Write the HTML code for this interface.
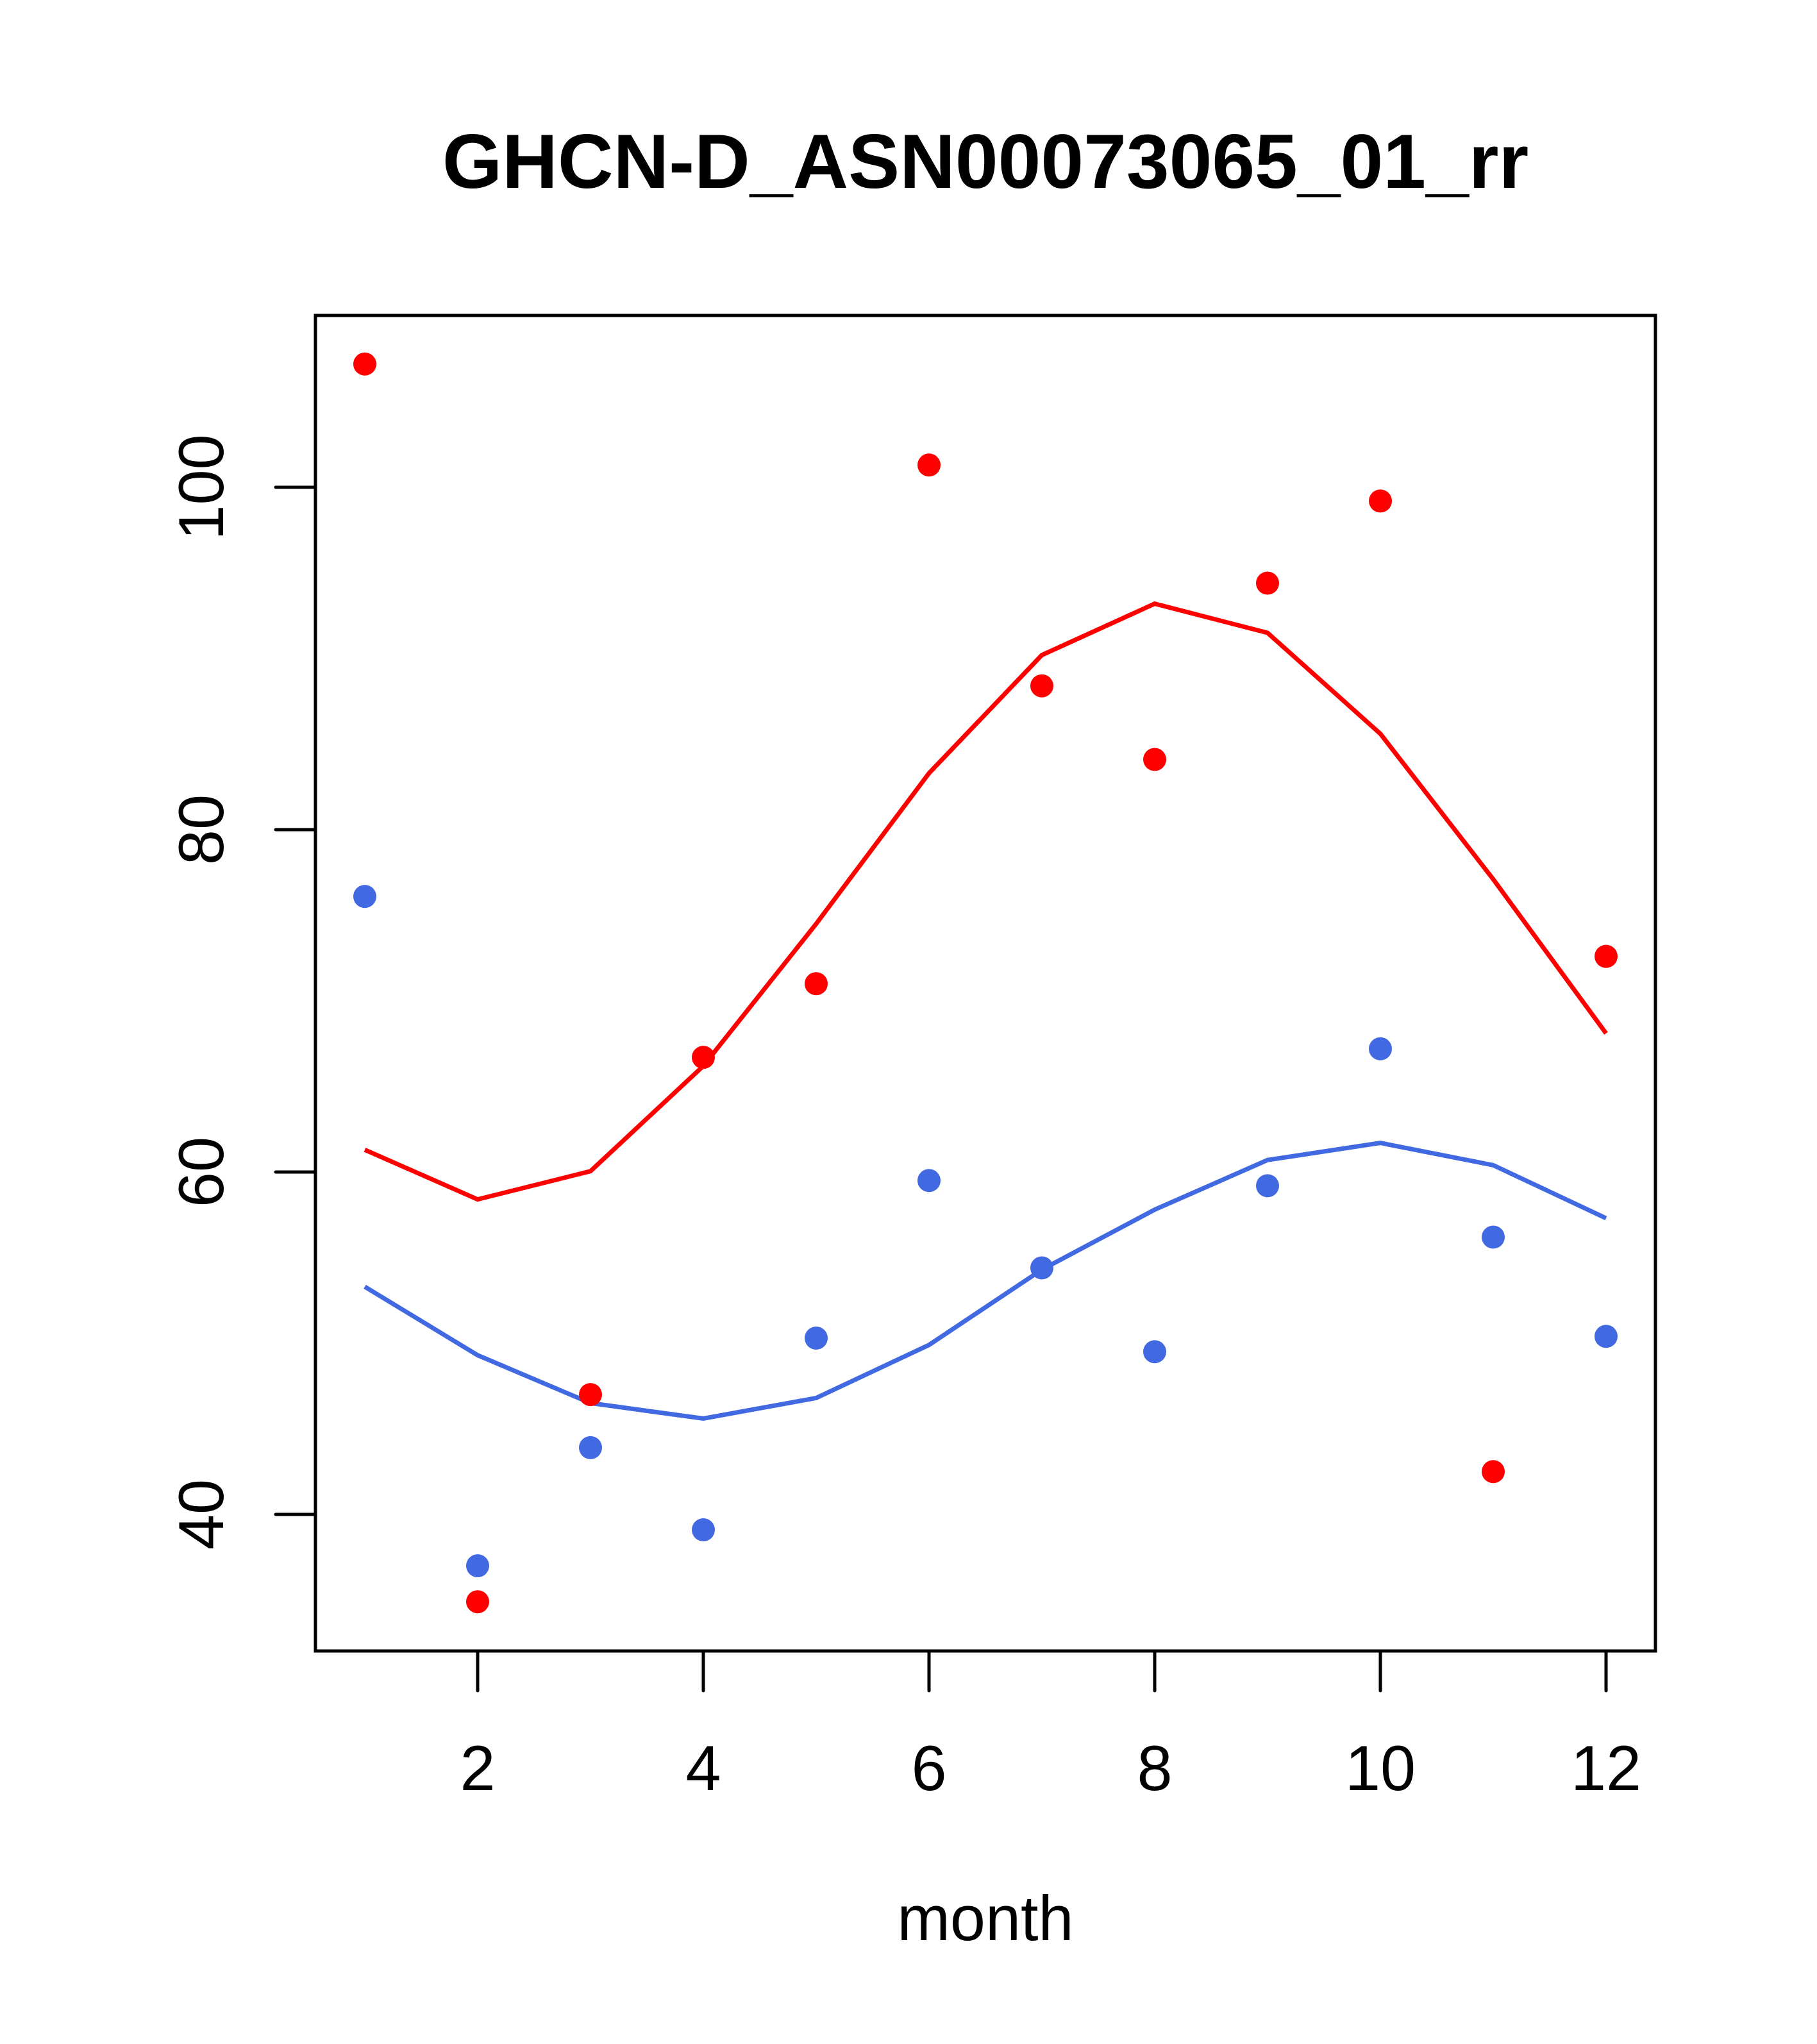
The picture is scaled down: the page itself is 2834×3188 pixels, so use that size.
<!DOCTYPE html>
<html><head><style>html,body{margin:0;padding:0;background:#fff}svg{display:block}</style></head>
<body>
<svg id="s" xmlns="http://www.w3.org/2000/svg" width="2834" height="3188" viewBox="0 0 2834 3188" font-family="Liberation Sans, sans-serif">
<rect width="2834" height="3188" fill="#fff"/>
<text x="1537" y="293" font-size="120" font-weight="bold" text-anchor="middle">GHCN-D_ASN00073065_01_rr</text>
<text x="1537" y="3026" font-size="99" text-anchor="middle">month</text>
<g id="g"></g>
<rect x="492" y="492" width="2090" height="2083" fill="none" stroke="#000" stroke-width="5"/>
</svg>
<script>
var X=function(m){return 569+(m-1)*176;};
var Y=function(v){return 760+(100-v)*26.7;};
var g=document.getElementById('g'),h='';
var rp=[107.2,34.9,47.0,66.7,71.0,101.3,88.4,84.1,94.4,99.2,42.5,72.6];
var rl=[61.3,58.4,60.05,66.2,74.5,83.3,90.2,93.2,91.5,85.6,77.1,68.1];
var bp=[76.1,37.0,43.9,39.1,50.3,59.5,54.4,49.5,59.2,67.2,56.2,50.4];
var bl=[53.3,49.3,46.5,45.6,46.8,49.9,54.3,57.8,60.7,61.7,60.4,57.3];
function line(a,c){var p=a.map(function(v,i){return X(i+1).toFixed(1)+','+Y(v).toFixed(1)}).join(' ');
 return '<polyline points="'+p+'" fill="none" stroke="'+c+'" stroke-width="7"/>';}
function pts(a,c){return a.map(function(v,i){return '<circle cx="'+X(i+1)+'" cy="'+Y(v).toFixed(1)+'" r="18" fill="'+c+'"/>'}).join('');}
h+=line(rl,'#FF0000')+line(bl,'#4169E1')+pts(rp,'#FF0000')+pts(bp,'#4169E1');
[2,4,6,8,10,12].forEach(function(m){h+='<line x1="'+X(m)+'" y1="2575" x2="'+X(m)+'" y2="2637" stroke="#000" stroke-width="5" stroke-linecap="round"/>';
 h+='<text x="'+X(m)+'" y="2792" font-size="99" text-anchor="middle">'+m+'</text>';});
[40,60,80,100].forEach(function(v){var y=Y(v);h+='<line x1="430" y1="'+y+'" x2="492" y2="'+y+'" stroke="#000" stroke-width="5" stroke-linecap="round"/>';
 h+='<text transform="translate(348,'+y+') rotate(-90)" font-size="99" text-anchor="middle">'+v+'</text>';});
g.innerHTML=h;
</script>
</body></html>
